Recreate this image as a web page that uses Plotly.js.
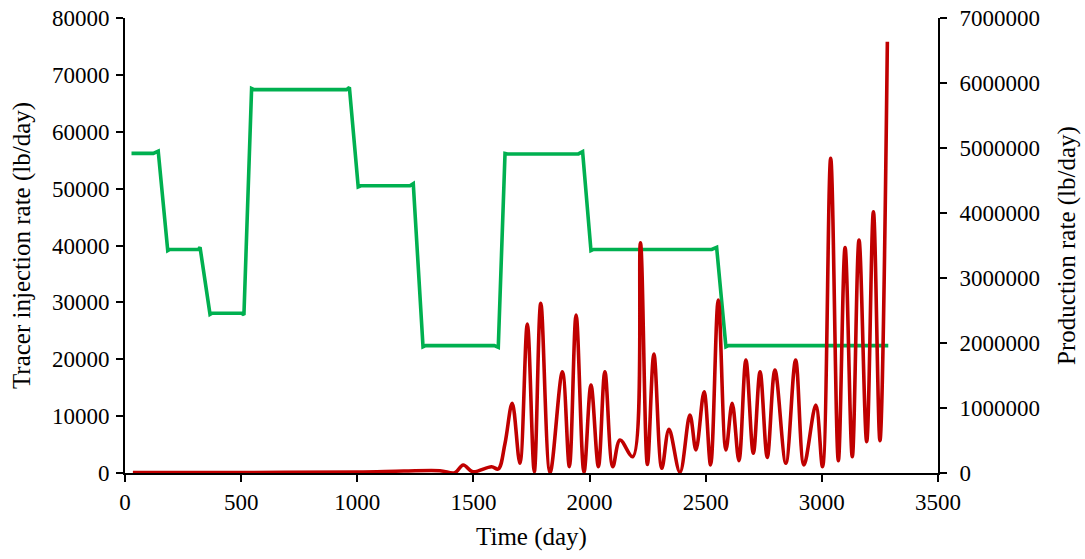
<!DOCTYPE html>
<html>
<head>
<meta charset="utf-8">
<script src="https://cdn.plot.ly/plotly-3.0.1.min.js"></script>
<style>html,body{margin:0;padding:0;background:#fff;}#chart{width:1085px;height:559px;}</style>
</head>
<body>
<div id="chart"></div>
<script>
// Tracer injection rate (left axis)
const injDays = [28, 122, 143, 184, 193, 316, 323, 366, 375, 502, 512, 545, 556, 954, 966, 1004, 1015, 1227, 1241, 1283, 1294, 1590, 1607, 1636, 1647, 1952, 1970, 2006, 2017, 2526, 2547, 2587, 2598, 3286];
const injRate = [56200, 56200, 56600, 39100, 39300, 39300, 39700, 27900, 28100, 28100, 27800, 67600, 67400, 67400, 67800, 50300, 50500, 50500, 50870, 22200, 22400, 22400, 22100, 56200, 56100, 56100, 56500, 39100, 39300, 39300, 39680, 22200, 22400, 22400];

// Production rate (right axis)
const prodDays = [34, 500, 1000, 1200, 1356, 1420, 1456, 1497, 1578, 1607, 1636, 1667, 1700, 1732, 1762, 1790, 1830, 1883, 1913, 1942, 1976, 2006, 2038, 2066, 2100, 2131, 2186, 2219, 2249, 2277, 2311, 2342, 2389, 2432, 2458, 2493, 2521, 2554, 2587, 2614, 2643, 2673, 2705, 2734, 2765, 2798, 2845, 2887, 2923, 2974, 3003, 3038, 3071, 3100, 3131, 3160, 3193, 3222, 3250, 3282];
const prodRate = [5000, 8000, 15000, 30000, 35000, 5000, 123000, 20000, 97000, 62000, 457000, 1072000, 149000, 2292000, 20000, 2611000, 5000, 1558000, 97000, 2431000, 10000, 1354000, 97000, 1558000, 97000, 508000, 251000, 3540000, 130000, 1830000, 72000, 672000, 10000, 892000, 354000, 1251000, 123000, 2662000, 354000, 1072000, 189000, 1738000, 303000, 1558000, 241000, 1584000, 149000, 1738000, 123000, 1046000, 97000, 4841000, 189000, 3469000, 251000, 3585000, 482000, 4020000, 497000, 6636000];

const xTicks = [0, 500, 1000, 1500, 2000, 2500, 3000, 3500];
const yTicks = [0, 10000, 20000, 30000, 40000, 50000, 60000, 70000, 80000];
const y2Ticks = [0, 1000000, 2000000, 3000000, 4000000, 5000000, 6000000, 7000000];

const font = {family: '"Liberation Serif", "Times New Roman", serif', color: '#000', size: 23};
const titleFont = Object.assign({}, font, {size: 25});

const traces = [
  {x: injDays, y: injRate, type: 'scatter', mode: 'lines', yaxis: 'y',
   line: {color: '#00B050', width: 3.6, shape: 'linear'}, hoverinfo: 'skip'},
  {x: prodDays, y: prodRate, type: 'scatter', mode: 'lines', yaxis: 'y2',
   line: {color: '#C00000', width: 3.6, shape: 'spline', smoothing: 1}, hoverinfo: 'skip'}
];

const axisCommon = {
  showline: true, linecolor: '#000', linewidth: 2,
  ticks: 'outside', ticklen: 7, tickwidth: 2, tickcolor: '#000',
  showgrid: false, zeroline: false, tickfont: font, mirror: false
};

const layout = {
  width: 1085, height: 559,
  margin: {l: 125, r: 147, t: 18, b: 86},
  paper_bgcolor: '#fff', plot_bgcolor: '#fff',
  showlegend: false,
  font: font,
  xaxis: Object.assign({}, axisCommon, {
    range: [0, 3500], tickmode: 'array', tickvals: xTicks, ticktext: xTicks.map(String),
    title: {text: 'Time (day)', font: titleFont, standoff: 14}
  }),
  yaxis: Object.assign({}, axisCommon, {
    range: [0, 80000], tickmode: 'array', tickvals: yTicks, ticktext: yTicks.map(String),
    ticklabelstandoff: 2,
    title: {text: 'Tracer injection rate (lb/day)', font: titleFont, standoff: 14}
  }),
  yaxis2: Object.assign({}, axisCommon, {
    range: [0, 7000000], overlaying: 'y', side: 'right', anchor: 'x',
    tickmode: 'array', tickvals: y2Ticks, ticktext: y2Ticks.map(String),
    ticklabelstandoff: 8,
    title: {text: 'Production rate (lb/day)', font: titleFont, standoff: 18}
  })
};

Plotly.newPlot('chart', traces, layout, {displayModeBar: false, staticPlot: true});
</script>
</body>
</html>
